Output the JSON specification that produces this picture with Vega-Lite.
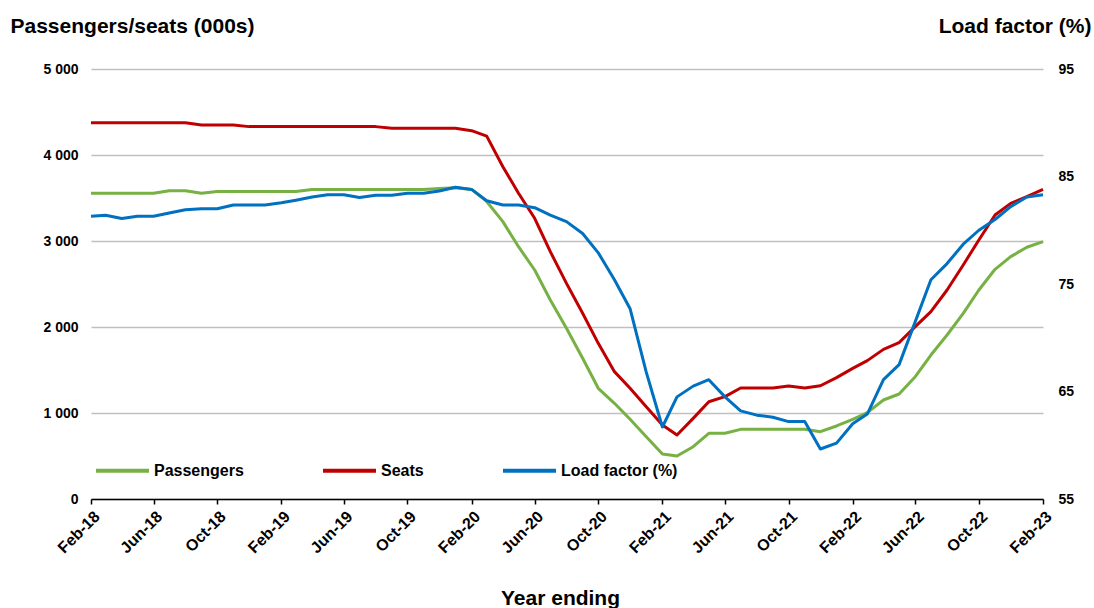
{
  "$schema": "https://vega.github.io/schema/vega-lite/v6.json",
  "autosize": "none",
  "width": 952,
  "height": 430,
  "padding": {"left": 91, "top": 69, "right": 51, "bottom": 109},
  "background": "white",
  "config": {
    "font": "Liberation Sans",
    "view": {"stroke": null},
    "axis": {"labelFontWeight": "bold", "labelColor": "#000000", "titleFontWeight": "bold", "titleColor": "#000000"}
  },
  "data": {
    "values": [
      {"date": "2018-02-01T00:00:00", "Passengers": 3555, "Seats": 4376, "Load factor (%)": 81.3},
      {"date": "2018-03-01T00:00:00", "Passengers": 3555, "Seats": 4376, "Load factor (%)": 81.4},
      {"date": "2018-04-01T00:00:00", "Passengers": 3555, "Seats": 4376, "Load factor (%)": 81.1},
      {"date": "2018-05-01T00:00:00", "Passengers": 3555, "Seats": 4376, "Load factor (%)": 81.3},
      {"date": "2018-06-01T00:00:00", "Passengers": 3555, "Seats": 4376, "Load factor (%)": 81.3},
      {"date": "2018-07-01T00:00:00", "Passengers": 3585, "Seats": 4376, "Load factor (%)": 81.6},
      {"date": "2018-08-01T00:00:00", "Passengers": 3585, "Seats": 4376, "Load factor (%)": 81.9},
      {"date": "2018-09-01T00:00:00", "Passengers": 3555, "Seats": 4349, "Load factor (%)": 82.0},
      {"date": "2018-10-01T00:00:00", "Passengers": 3575, "Seats": 4349, "Load factor (%)": 82.0},
      {"date": "2018-11-01T00:00:00", "Passengers": 3575, "Seats": 4349, "Load factor (%)": 82.35},
      {"date": "2018-12-01T00:00:00", "Passengers": 3575, "Seats": 4330, "Load factor (%)": 82.35},
      {"date": "2019-01-01T00:00:00", "Passengers": 3575, "Seats": 4330, "Load factor (%)": 82.35},
      {"date": "2019-02-01T00:00:00", "Passengers": 3575, "Seats": 4330, "Load factor (%)": 82.55},
      {"date": "2019-03-01T00:00:00", "Passengers": 3575, "Seats": 4330, "Load factor (%)": 82.8},
      {"date": "2019-04-01T00:00:00", "Passengers": 3600, "Seats": 4330, "Load factor (%)": 83.1},
      {"date": "2019-05-01T00:00:00", "Passengers": 3600, "Seats": 4330, "Load factor (%)": 83.3},
      {"date": "2019-06-01T00:00:00", "Passengers": 3600, "Seats": 4330, "Load factor (%)": 83.3},
      {"date": "2019-07-01T00:00:00", "Passengers": 3600, "Seats": 4330, "Load factor (%)": 83.05},
      {"date": "2019-08-01T00:00:00", "Passengers": 3600, "Seats": 4330, "Load factor (%)": 83.25},
      {"date": "2019-09-01T00:00:00", "Passengers": 3600, "Seats": 4310, "Load factor (%)": 83.25},
      {"date": "2019-10-01T00:00:00", "Passengers": 3600, "Seats": 4310, "Load factor (%)": 83.45},
      {"date": "2019-11-01T00:00:00", "Passengers": 3600, "Seats": 4310, "Load factor (%)": 83.45},
      {"date": "2019-12-01T00:00:00", "Passengers": 3610, "Seats": 4310, "Load factor (%)": 83.65},
      {"date": "2020-01-01T00:00:00", "Passengers": 3620, "Seats": 4310, "Load factor (%)": 84.0},
      {"date": "2020-02-01T00:00:00", "Passengers": 3600, "Seats": 4283, "Load factor (%)": 83.8},
      {"date": "2020-03-01T00:00:00", "Passengers": 3460, "Seats": 4220, "Load factor (%)": 82.75},
      {"date": "2020-04-01T00:00:00", "Passengers": 3225, "Seats": 3864, "Load factor (%)": 82.35},
      {"date": "2020-05-01T00:00:00", "Passengers": 2934, "Seats": 3555, "Load factor (%)": 82.35},
      {"date": "2020-06-01T00:00:00", "Passengers": 2663, "Seats": 3264, "Load factor (%)": 82.1},
      {"date": "2020-07-01T00:00:00", "Passengers": 2314, "Seats": 2876, "Load factor (%)": 81.4},
      {"date": "2020-08-01T00:00:00", "Passengers": 1985, "Seats": 2508, "Load factor (%)": 80.8},
      {"date": "2020-09-01T00:00:00", "Passengers": 1636, "Seats": 2159, "Load factor (%)": 79.7},
      {"date": "2020-10-01T00:00:00", "Passengers": 1287, "Seats": 1810, "Load factor (%)": 77.9},
      {"date": "2020-11-01T00:00:00", "Passengers": 1113, "Seats": 1481, "Load factor (%)": 75.4},
      {"date": "2020-12-01T00:00:00", "Passengers": 927, "Seats": 1287, "Load factor (%)": 72.7},
      {"date": "2021-01-01T00:00:00", "Passengers": 724, "Seats": 1073, "Load factor (%)": 66.8},
      {"date": "2021-02-01T00:00:00", "Passengers": 523, "Seats": 860, "Load factor (%)": 61.7},
      {"date": "2021-03-01T00:00:00", "Passengers": 500, "Seats": 744, "Load factor (%)": 64.5},
      {"date": "2021-04-01T00:00:00", "Passengers": 608, "Seats": 938, "Load factor (%)": 65.5},
      {"date": "2021-05-01T00:00:00", "Passengers": 764, "Seats": 1131, "Load factor (%)": 66.1},
      {"date": "2021-06-01T00:00:00", "Passengers": 764, "Seats": 1190, "Load factor (%)": 64.5},
      {"date": "2021-07-01T00:00:00", "Passengers": 810, "Seats": 1290, "Load factor (%)": 63.2},
      {"date": "2021-08-01T00:00:00", "Passengers": 810, "Seats": 1290, "Load factor (%)": 62.8},
      {"date": "2021-09-01T00:00:00", "Passengers": 810, "Seats": 1290, "Load factor (%)": 62.6},
      {"date": "2021-10-01T00:00:00", "Passengers": 810, "Seats": 1314, "Load factor (%)": 62.2},
      {"date": "2021-11-01T00:00:00", "Passengers": 810, "Seats": 1290, "Load factor (%)": 62.2},
      {"date": "2021-12-01T00:00:00", "Passengers": 783, "Seats": 1317, "Load factor (%)": 59.65},
      {"date": "2022-01-01T00:00:00", "Passengers": 849, "Seats": 1411, "Load factor (%)": 60.2},
      {"date": "2022-02-01T00:00:00", "Passengers": 927, "Seats": 1519, "Load factor (%)": 62.0},
      {"date": "2022-03-01T00:00:00", "Passengers": 1004, "Seats": 1609, "Load factor (%)": 62.9},
      {"date": "2022-04-01T00:00:00", "Passengers": 1151, "Seats": 1740, "Load factor (%)": 66.1},
      {"date": "2022-05-01T00:00:00", "Passengers": 1221, "Seats": 1818, "Load factor (%)": 67.5},
      {"date": "2022-06-01T00:00:00", "Passengers": 1422, "Seats": 2004, "Load factor (%)": 71.5},
      {"date": "2022-07-01T00:00:00", "Passengers": 1674, "Seats": 2178, "Load factor (%)": 75.4},
      {"date": "2022-08-01T00:00:00", "Passengers": 1907, "Seats": 2430, "Load factor (%)": 76.9},
      {"date": "2022-09-01T00:00:00", "Passengers": 2159, "Seats": 2721, "Load factor (%)": 78.7},
      {"date": "2022-10-01T00:00:00", "Passengers": 2430, "Seats": 3012, "Load factor (%)": 80.0},
      {"date": "2022-11-01T00:00:00", "Passengers": 2671, "Seats": 3302, "Load factor (%)": 81.0},
      {"date": "2022-12-01T00:00:00", "Passengers": 2818, "Seats": 3438, "Load factor (%)": 82.2},
      {"date": "2023-01-01T00:00:00", "Passengers": 2927, "Seats": 3515, "Load factor (%)": 83.1},
      {"date": "2023-02-01T00:00:00", "Passengers": 2992, "Seats": 3601, "Load factor (%)": 83.3}
    ]
  },
  "encoding": {
    "x": {
      "field": "date",
      "type": "temporal",
      "scale": {"nice": false, "padding": 0},
      "axis": {
        "title": "Year ending",
        "titleFontSize": 21,
        "titleX": 469,
        "titleY": 105,
        "titleAlign": "center",
        "titleBaseline": "alphabetic",
        "values": [
          {"year": 2018, "month": 2, "date": 1}, {"year": 2018, "month": 6, "date": 1}, {"year": 2018, "month": 10, "date": 1},
          {"year": 2019, "month": 2, "date": 1}, {"year": 2019, "month": 6, "date": 1}, {"year": 2019, "month": 10, "date": 1},
          {"year": 2020, "month": 2, "date": 1}, {"year": 2020, "month": 6, "date": 1}, {"year": 2020, "month": 10, "date": 1},
          {"year": 2021, "month": 2, "date": 1}, {"year": 2021, "month": 6, "date": 1}, {"year": 2021, "month": 10, "date": 1},
          {"year": 2022, "month": 2, "date": 1}, {"year": 2022, "month": 6, "date": 1}, {"year": 2022, "month": 10, "date": 1},
          {"year": 2023, "month": 2, "date": 1}
        ],
        "format": "%b-%y",
        "labelAngle": -45,
        "labelFontSize": 16,
        "labelPadding": 4,
        "labelOverlap": false,
        "labelFlush": false,
        "domainColor": "#000000",
        "domainWidth": 1.5,
        "tickColor": "#000000",
        "tickWidth": 1.5,
        "tickSize": 5,
        "grid": false
      }
    }
  },
  "layer": [
    {
      "transform": [{"fold": ["Passengers", "Seats"], "as": ["series", "value"]}],
      "mark": {"type": "line", "strokeWidth": 3, "strokeJoin": "round"},
      "encoding": {
        "y": {
          "field": "value",
          "type": "quantitative",
          "scale": {"domain": [0, 5000], "nice": false, "zero": true},
          "axis": {
            "orient": "left",
            "values": [0, 1000, 2000, 3000, 4000, 5000],
            "labelExpr": "replace(format(datum.value, ','), ',', ' ')",
            "labelFontSize": 14,
            "labelPadding": 13,
            "ticks": false,
            "domain": false,
            "grid": true,
            "gridColor": "#C0C0C0",
            "gridWidth": 1.5,
            "title": "Passengers/seats (000s)",
            "titleAngle": 0,
            "titleFontSize": 21,
            "titleAlign": "left",
            "titleBaseline": "alphabetic",
            "titleX": -81,
            "titleY": -37
          }
        },
        "color": {
          "field": "series",
          "type": "nominal",
          "scale": {"domain": ["Passengers", "Seats", "Load factor (%)"], "range": ["#77B144", "#C00000", "#0070C0"]},
          "legend": {
            "title": null,
            "orient": "none",
            "direction": "horizontal",
            "legendX": 3,
            "legendY": 373,
            "padding": 0,
            "symbolType": "stroke",
            "symbolSize": 2809,
            "symbolStrokeWidth": 4,
            "labelFontSize": 16,
            "labelFontWeight": "bold",
            "labelColor": "#000000",
            "labelOffset": 3,
            "columnPadding": 71,
            "labelLimit": 300
          }
        }
      }
    },
    {
      "transform": [{"fold": ["Load factor (%)"], "as": ["series", "lf"]}],
      "mark": {"type": "line", "strokeWidth": 3, "strokeJoin": "round"},
      "encoding": {
        "y": {
          "field": "lf",
          "type": "quantitative",
          "scale": {"domain": [55, 95], "nice": false, "zero": false},
          "axis": {
            "orient": "right",
            "values": [55, 65, 75, 85, 95],
            "labelFontSize": 14,
            "labelPadding": 15,
            "ticks": false,
            "domain": false,
            "grid": false,
            "title": "Load factor (%)",
            "titleAngle": 0,
            "titleFontSize": 21,
            "titleAlign": "right",
            "titleBaseline": "alphabetic",
            "titleX": 48,
            "titleY": -37
          }
        },
        "color": {"field": "series", "type": "nominal"}
      }
    }
  ],
  "resolve": {"scale": {"y": "independent"}}
}
